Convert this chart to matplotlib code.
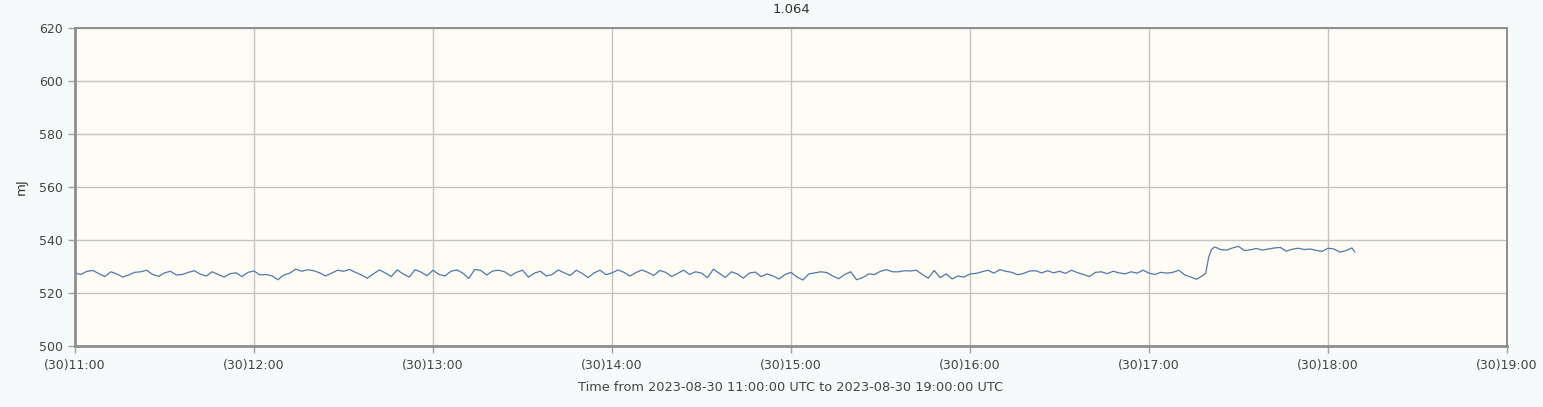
import matplotlib
matplotlib.use("Agg")
import matplotlib.pyplot as plt

# ---- data (minutes after 2023-08-30 11:00 UTC, energy in mJ) ----
minutes = [0, 2, 4, 6, 8, 10, 12, 14, 16, 18, 20, 22, 24, 26, 28, 30, 32, 34, 36, 38,
           40, 42, 44, 46, 48, 50, 52, 54, 56, 58, 60, 62, 64,
           66, 68, 70, 72, 74, 76, 78, 80, 82, 84, 86, 88, 90, 92, 94, 96, 98, 100,
           102, 104, 106, 108, 110, 112, 114, 116, 118, 120, 122, 124, 126, 128, 130,
           132, 134, 136, 138, 140, 142, 144, 146, 148, 150, 152, 154, 156, 158, 160,
           162, 164, 166, 168, 170, 172, 174, 176, 178, 180, 182, 184, 186, 188, 190,
           192, 194, 196,
           198, 200, 202, 204, 206, 208, 210, 212, 214, 216, 218, 220, 222, 224, 226,
           228, 230, 232, 234, 236, 238, 240, 242, 244, 246, 248, 250, 252, 254, 256,
           258, 260,
           262, 264, 266, 268, 270, 272, 274, 276, 278, 280, 282, 284, 286, 288, 290,
           292, 294, 296, 298, 300, 302, 304, 306, 308, 310, 312, 314, 316, 318, 320,
           322, 324, 326,
           328, 330, 332, 334, 336, 338, 340, 342, 344, 346, 348, 350, 352, 354, 356,
           358, 360, 362, 364, 366, 368, 370, 372, 374, 376, 378, 379, 380, 381, 382,
           384, 386, 388, 390, 392,
           394, 396, 398, 400, 402, 404, 406, 408, 410, 412, 414, 416, 418, 420, 422,
           424, 426, 428, 429]

energy = [527.5, 527.0, 528.2, 528.5, 527.3, 526.2, 528.0, 527.2, 526.0, 526.8, 527.8,
          528.0, 528.6, 527.0, 526.3, 527.6, 528.2, 526.8, 527.0, 527.8,
          528.4, 527.1, 526.4, 528.0, 527.0, 526.0, 527.3, 527.6, 526.2, 527.8, 528.3,
          526.8, 527.0,
          526.5, 525.0, 526.8, 527.5, 529.0, 528.2, 528.8, 528.4, 527.6, 526.4, 527.5,
          528.6, 528.2, 528.9, 527.8, 526.8, 525.6, 527.2,
          528.7, 527.6, 526.2, 528.7, 527.2, 526.0, 528.8, 527.9, 526.5, 528.6, 527.0,
          526.4, 528.2, 528.7, 527.5,
          525.5, 528.9, 528.5, 526.8, 528.3, 528.6, 528.0, 526.5, 527.8, 528.6, 526.0,
          527.5, 528.2, 526.4, 527.0,
          528.7, 527.6, 526.6, 528.6, 527.4, 525.8, 527.6, 528.6, 526.9, 527.6, 528.7,
          527.8, 526.4, 527.7, 528.7,
          527.8, 526.6, 528.5,
          527.8, 526.2, 527.4, 528.6, 527.0, 528.0, 527.5, 525.8, 529.0, 527.4, 525.9,
          528.0, 527.2, 525.6, 527.5,
          527.9, 526.2, 527.2, 526.4, 525.3, 527.0, 527.8, 526.0, 524.9, 527.2, 527.6,
          528.0, 527.7, 526.4, 525.4,
          527.0, 528.0,
          525.0, 525.8, 527.2, 527.0, 528.2, 528.8, 528.0, 528.0, 528.4, 528.3, 528.6,
          527.0, 525.6, 528.5, 525.8,
          527.2, 525.3, 526.4, 526.0, 527.2, 527.4, 528.0, 528.6, 527.5, 528.8, 528.2,
          527.8, 526.9, 527.4, 528.3,
          528.4, 527.6, 528.4,
          527.6, 528.2, 527.4, 528.6, 527.7, 527.0, 526.2, 527.8, 528.0, 527.3, 528.2,
          527.6, 527.2, 528.0, 527.5,
          528.6, 527.5, 527.0, 527.8, 527.5, 527.8, 528.6, 526.8, 526.0, 525.2, 526.6,
          527.4, 533.5, 536.5, 537.4,
          536.4, 536.2, 537.0, 537.6, 536.0,
          536.3, 536.8, 536.2, 536.6, 537.0, 537.2, 535.8, 536.5, 536.9, 536.4, 536.6,
          536.1, 535.7, 536.9, 536.6,
          535.4, 536.0, 537.0, 535.5]

tick_minutes = [0, 60, 120, 180, 240, 300, 360, 420, 480]
tick_labels = ["(30)11:00", "(30)12:00", "(30)13:00", "(30)14:00", "(30)15:00",
               "(30)16:00", "(30)17:00", "(30)18:00", "(30)19:00"]
y_ticks = [500, 520, 540, 560, 580, 600, 620]

title = "1.064"
y_label = "mJ"
x_label = "Time from 2023-08-30 11:00:00 UTC to 2023-08-30 19:00:00 UTC"

# ---- figure ----
W, H = 1543, 407
fig = plt.figure(figsize=(W / 100, H / 100), dpi=100, facecolor="#f7fafa")
ax = fig.add_axes([75 / W, 1 - 346 / H, (1507 - 75) / W, (346 - 28) / H])
ax.set_facecolor("#fffcf5")

ax.plot(minutes, energy, color="#4f78ad", linewidth=0.9)

ax.set_xlim(0, 480)
ax.set_ylim(500, 620)
ax.set_xticks(tick_minutes)
ax.set_xticklabels(tick_labels)
ax.set_yticks(y_ticks)

ax.grid(True, color="#c4c4c4", linewidth=1.0)
ax.set_axisbelow(True)

for side in ["left", "bottom", "top", "right"]:
    ax.spines[side].set_color("#8e8e8e")
    ax.spines[side].set_linewidth(1.4)
ax.spines["left"].set_linewidth(2.0)
ax.spines["bottom"].set_linewidth(2.0)

ax.tick_params(axis="both", direction="out", length=5, width=1, color="#a0a0a0",
               labelsize=9, labelcolor="#444444", pad=4)

ax.set_title(title, fontsize=9.5, color="#333333", pad=11)
ax.set_ylabel(y_label, fontsize=9.5, color="#333333")
ax.yaxis.set_label_coords((28 - 75) / 1432, 0.5)
ax.set_xlabel(x_label, fontsize=9.3, color="#444444", labelpad=7)

fig.savefig("out.png", dpi=100, facecolor=fig.get_facecolor())
